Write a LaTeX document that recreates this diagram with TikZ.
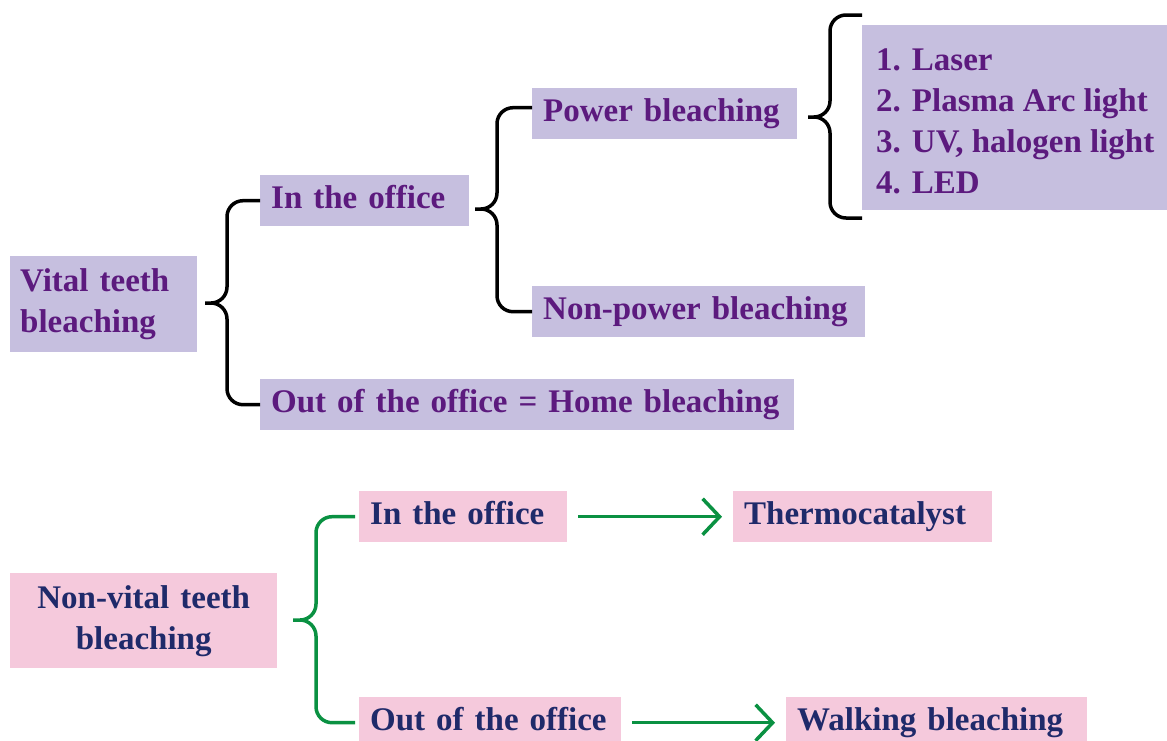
\documentclass[tikz,border=0pt]{standalone}
\usepackage{fontspec}
\setmainfont{Liberation Serif}
\usetikzlibrary{arrows.meta}
\hyphenpenalty=10000
\exhyphenpenalty=10000

\definecolor{vfill}{HTML}{C6BFDF}
\definecolor{vtext}{HTML}{5C1A7E}
\definecolor{nfill}{HTML}{F5C9DC}
\definecolor{ntext}{HTML}{1F2A6A}
\definecolor{gline}{HTML}{0A9142}

\begin{document}
\begin{tikzpicture}[x=1pt,y=-1pt,
  every node/.style={anchor=north west, inner ysep=0pt, align=left, font=\fontsize{33}{41}\selectfont\bfseries},
  vbox/.style={fill=vfill, text=vtext},
  nbox/.style={fill=nfill, text=ntext},
  onebox/.style={inner xsep=0pt, text height=24pt, text depth=8pt, minimum height=51pt, execute at begin node=\hspace*{11pt}},
  brace/.style={draw=black, line width=3.5pt, rounded corners=16pt},
  gbrace/.style={brace, draw=gline},
  garrow/.style={draw=gline, line width=3.5pt, -{Straight Barb[length=17pt,width=36pt]}, shorten <=11pt, shorten >=11pt}]
\useasboundingbox (0,0) rectangle (1167,740);

% vital teeth
\node[vbox, inner xsep=10pt, text width=167pt, minimum height=96pt] (vital) at (10,256) {Vital teeth\\bleaching};
\node[vbox, onebox, text width=209pt] (office1) at (260,175) {In the office};
\node[vbox, onebox, text width=534pt] (home) at (260,379) {Out of the office = Home bleaching};
\node[vbox, onebox, text width=265pt] (power) at (532,88) {Power bleaching};
\node[vbox, onebox, text width=333pt] (nonpower) at (532,286) {Non-power bleaching};
\node[vbox, inner xsep=14pt, minimum height=185pt] (list) at (862,25) {\rule{0pt}{30pt}1. Laser\\2. Plasma Arc light\\3. UV, halogen light\\4. LED};

\coordinate (t1) at (205,303);
\coordinate (m1) at (227,303);
\draw[brace] (office1.west) -| (m1) -- (t1) (t1) -- (m1) |- (home.west);
\coordinate (t2) at (475,209);
\coordinate (m2) at (497,209);
\draw[brace] ([yshift=6pt]power.west) -| (m2) -- (t2) (t2) -- (m2) |- (nonpower.west);
\coordinate (t3) at (808,117);
\coordinate (m3) at (830,117);
\coordinate (l1) at (862,15);
\coordinate (l2) at (862,218);
\draw[brace] (l1) -| (m3) -- (t3) (t3) -- (m3) |- (l2);

% non-vital teeth
\node[nbox, inner xsep=11pt, text width=245pt, align=center, minimum height=95pt] (nonvital) at (10,573) {Non-vital teeth\\bleaching};
\node[nbox, onebox, text width=208pt] (office2) at (359,491) {In the office};
\node[nbox, onebox, text width=259pt] (thermo) at (733,491) {Thermocatalyst};
\node[nbox, onebox, text width=262pt] (outoffice) at (359,697) {Out of the office};
\node[nbox, onebox, text width=301pt] (walking) at (786,697) {Walking bleaching};

\coordinate (t4) at (293,620);
\coordinate (m4) at (316,620);
\draw[gbrace] ([xshift=-4pt]office2.west) -| (m4) -- (t4) (t4) -- (m4) |- ([xshift=-4pt]outoffice.west);
\draw[garrow] (office2.east) -- (thermo.west);
\draw[garrow] (outoffice.east) -- (walking.west);
\end{tikzpicture}
\end{document}
